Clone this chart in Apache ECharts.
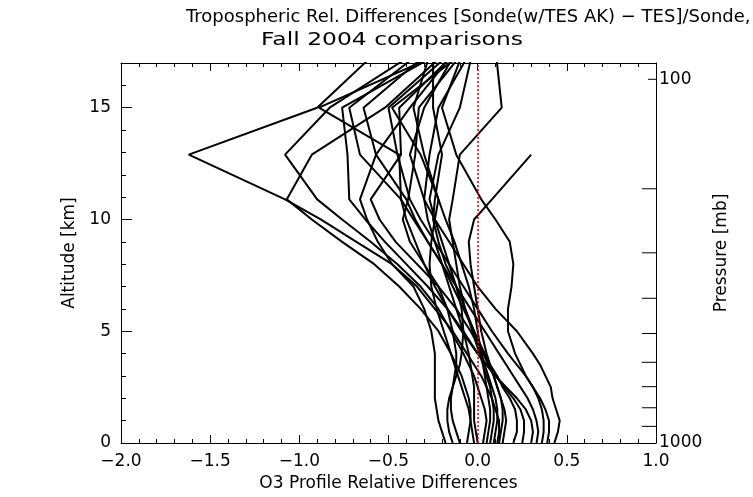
<!DOCTYPE html>
<html><head><meta charset="utf-8">
<script src="https://cdn.jsdelivr.net/npm/echarts@6/dist/echarts.min.js"></script>
<style>html,body{margin:0;padding:0;background:#fff}#c{width:753px;height:497px}</style>
</head><body><div id="c"></div>
<script>
// Altitude levels [km] at which profile values are given
const altitudes = [0, 0.5, 1, 1.5, 2, 2.5, 3, 3.5, 4, 5, 6, 7, 8, 9, 10, 10.9, 12.9, 15.0, 17.1];
// Relative differences for each sonde comparison profile
const p01 = [0.11,0.12,0.12,0.10,0.08,0.05,0.02,-0.02,-0.06,-0.14,-0.24,-0.34,-0.48,-0.68,-0.88,-1.08,-1.62,-0.90,-0.62];
const p02 = [0.03,0.04,0.05,0.04,0.02,0.00,-0.02,-0.05,-0.08,-0.15,-0.22,-0.32,-0.45,-0.60,-0.76,-0.90,-1.08,-0.83,-0.42];
const p03 = [-0.06,-0.05,-0.04,-0.04,-0.05,-0.07,-0.09,-0.12,-0.15,-0.22,-0.32,-0.44,-0.58,-0.76,-0.93,-1.07,-0.93,-0.52,-0.23];
const p04 = [0.30,0.31,0.30,0.27,0.22,0.16,0.10,0.05,0.00,-0.09,-0.17,-0.24,-0.30,-0.35,-0.40,-0.43,-0.44,-0.89,-0.30];
const p05 = [0.25,0.26,0.26,0.24,0.20,0.15,0.10,0.05,0.00,-0.08,-0.17,-0.28,-0.40,-0.52,-0.63,-0.72,-0.73,-0.76,-0.29];
const p06 = [-0.18,-0.20,-0.22,-0.23,-0.24,-0.24,-0.24,-0.24,-0.24,-0.26,-0.30,-0.36,-0.48,-0.56,-0.62,-0.66,-0.57,-0.38,-0.17];
const p07 = [-0.10,-0.12,-0.14,-0.15,-0.15,-0.14,-0.13,-0.12,-0.12,-0.14,-0.17,-0.22,-0.30,-0.38,-0.42,-0.39,-0.35,-0.33,-0.12];
const p08 = [0.00,-0.01,-0.02,-0.02,-0.02,-0.02,-0.03,-0.04,-0.05,-0.08,-0.12,-0.16,-0.20,-0.24,-0.28,-0.30,-0.27,-0.22,-0.07];
const p09 = [0.07,0.08,0.09,0.09,0.08,0.07,0.05,0.03,0.01,-0.03,-0.07,-0.10,-0.12,-0.14,-0.16,-0.14,-0.10,0.135,0.107];
const p10 = [0.14,0.15,0.16,0.15,0.13,0.11,0.09,0.07,0.05,0.02,0.00,-0.02,-0.04,-0.05,-0.02,0.08,0.30,null,null];
const p11 = [0.39,0.40,0.40,0.38,0.35,0.31,0.27,0.24,0.21,0.17,0.17,0.19,0.20,0.18,0.10,0.02,-0.12,-0.20,-0.10];
const p12 = [0.43,0.45,0.46,0.44,0.42,0.41,0.38,0.35,0.31,0.22,0.10,0.00,-0.08,-0.16,-0.24,-0.30,-0.38,-0.30,-0.15];
const p13 = [0.36,0.37,0.37,0.36,0.34,0.31,0.27,0.22,0.17,0.08,0.00,-0.08,-0.16,-0.24,-0.32,-0.38,-0.45,-0.50,-0.20];
const p14 = [0.09,0.10,0.11,0.11,0.10,0.08,0.06,0.04,0.02,-0.02,-0.07,-0.12,-0.18,-0.22,-0.25,-0.24,-0.20,-0.25,-0.25];
const p15 = [-0.02,-0.03,-0.04,-0.05,-0.07,-0.09,-0.11,-0.13,-0.15,-0.19,-0.23,-0.26,-0.27,-0.26,-0.24,-0.22,-0.30,-0.36,-0.28];
const p16 = [0.20,0.22,0.22,0.21,0.18,0.14,0.11,0.07,0.04,-0.02,-0.08,-0.14,-0.20,-0.28,-0.35,-0.40,-0.57,-0.64,-0.33];
const p17 = [0.33,0.34,0.33,0.31,0.28,0.24,0.20,0.16,0.12,0.04,-0.04,-0.12,-0.20,-0.28,-0.36,-0.43,-0.66,-0.72,-0.38];
const p18 = [0.05,0.06,0.07,0.07,0.06,0.05,0.04,0.03,0.02,0.00,-0.02,-0.05,-0.09,-0.13,-0.18,-0.22,-0.32,-0.48,-0.14];
const p19 = [-0.14,-0.16,-0.17,-0.17,-0.16,-0.14,-0.12,-0.10,-0.09,-0.08,-0.09,-0.12,-0.16,-0.20,-0.24,-0.27,-0.22,-0.10,-0.04];
const p20 = [0.12,0.13,0.14,0.14,0.13,0.11,0.09,0.06,0.03,-0.04,-0.12,-0.22,-0.34,-0.46,-0.55,-0.60,-0.43,-0.44,-0.17];
const profiles = [p01,p02,p03,p04,p05,p06,p07,p08,p09,p10,p11,p12,p13,p14,p15,p16,p17,p18,p19,p20];

// Axis ranges / ticks
const xRange = [-2.0, 1.0];
const altRange = [0, 17];
const pressureRange = [90.2, 1000];
const pressureTicks = [100, 200, 300, 400, 500, 600, 700, 800, 900];
const pressureLabels = [100, 1000];
const zeroLine = [0];

const titleLine1 = 'Tropospheric Rel. Differences [Sonde(w/TES AK) \u2212 TES]/Sonde,';
const titleLine2 = 'Fall 2004 comparisons';

const FONT = 'DejaVu Sans';
const fmtMinus = v => (v < 0 ? '\u2212' : '') + Math.abs(v).toFixed(1);

const chart = echarts.init(document.getElementById('c'), null, {renderer: 'canvas'});

const lineSeries = profiles.map((p, k) => ({
  type: 'line',
  name: 'p' + (k + 1),
  xAxisIndex: 0, yAxisIndex: 0,
  data: p.map((x, i) => x === null ? null : [x, altitudes[i]]).filter(d => d !== null),
  showSymbol: false, symbol: 'none',
  color: '#000',
  lineStyle: {color: '#000', width: 2},
  silent: true,
  z: 3
}));

const zeroSeries = {
  type: 'line',
  name: 'zero',
  xAxisIndex: 0, yAxisIndex: 0,
  data: [],
  color: '#ff0000',
  silent: true,
  markLine: {
    silent: true, symbol: ['none', 'none'], label: {show: false},
    lineStyle: {color: '#ff0000', type: [2, 2], width: 1.6, opacity: 1},
    data: zeroLine.map(v => ({xAxis: v, lineStyle: {color: '#ff0000'}}))
  },
  z: 4
};

const tickSeries = {
  type: 'custom',
  xAxisIndex: 0, yAxisIndex: 1,
  data: pressureTicks.map(p => [xRange[1], p]),
  encode: {x: 0, y: 1},
  clip: false,
  silent: true,
  renderItem: (params, api) => {
    const pt = api.coord([api.value(0), api.value(1)]);
    const len = api.value(1) === 100 ? 8 : 14;
    return {type: 'line', shape: {x1: pt[0] - len, y1: pt[1], x2: pt[0], y2: pt[1]},
            style: {stroke: '#000', lineWidth: 1}};
  }
};

const axisLine = {show: true, onZero: false, lineStyle: {color: '#000', width: 1}};

chart.setOption({
  animation: false,
  backgroundColor: '#fff',
  textStyle: {fontFamily: FONT},
  grid: {left: 121, right: 97, top: 63, bottom: 54, containLabel: false},
  graphic: [
    {type: 'text', left: 186, top: 8, style: {text: titleLine1, font: '18px "DejaVu Sans"', fill: '#000'}},
    {type: 'text', x: 392, y: 31, scaleX: 1.3, style: {text: titleLine2, font: '18px "DejaVu Sans"', fill: '#000', textAlign: 'center'}}
  ],
  xAxis: [
    {
      type: 'value', position: 'bottom', min: xRange[0], max: xRange[1], interval: 0.5,
      axisLine: axisLine, splitLine: {show: false},
      axisTick: {show: true, inside: true, length: 8, lineStyle: {color: '#000'}},
      minorTick: {show: true, splitNumber: 5, length: 4, lineStyle: {color: '#000'}},
      axisLabel: {color: '#000', fontSize: 17, fontFamily: FONT, margin: 10, formatter: fmtMinus},
      name: 'O3 Profile Relative Differences', nameLocation: 'middle', nameGap: 32,
      nameTextStyle: {color: '#000', fontSize: 17, fontFamily: FONT}
    },
    {
      type: 'value', position: 'top', min: xRange[0], max: xRange[1], interval: 0.5,
      axisLine: axisLine, splitLine: {show: false},
      axisTick: {show: true, inside: true, length: 8, lineStyle: {color: '#000'}},
      minorTick: {show: true, splitNumber: 5, length: 4, lineStyle: {color: '#000'}},
      axisLabel: {show: false}
    }
  ],
  yAxis: [
    {
      type: 'value', position: 'left', min: altRange[0], max: altRange[1], interval: 5,
      axisLine: axisLine, splitLine: {show: false},
      axisTick: {show: true, inside: true, length: 11, lineStyle: {color: '#000'}},
      minorTick: {show: true, splitNumber: 5, length: 5, lineStyle: {color: '#000'}},
      axisLabel: {color: '#000', fontSize: 17, fontFamily: FONT, margin: 10, showMaxLabel: false,
        formatter: v => (v % 5 === 0 ? String(v) : '')},
      name: 'Altitude [km]', nameLocation: 'middle', nameGap: 35, nameRotate: 90,
      nameTextStyle: {color: '#000', fontSize: 17, fontFamily: FONT}
    },
    {
      type: 'log', logBase: 10, position: 'right', inverse: true,
      min: pressureRange[0], max: pressureRange[1],
      axisLine: axisLine, splitLine: {show: false},
      axisTick: {show: false},
      minorTick: {show: false},
      axisLabel: {color: '#000', fontSize: 17, fontFamily: FONT, margin: 3,
        showMinLabel: false,
        formatter: v => pressureLabels.some(p => Math.abs(p - v) < 1e-6 * p) ? String(Math.round(v)) : ''},
      name: 'Pressure [mb]', nameLocation: 'middle', nameGap: 40, nameRotate: 90,
      nameTextStyle: {color: '#000', fontSize: 17, fontFamily: FONT}
    }
  ],
  series: lineSeries.concat([zeroSeries, tickSeries])
});
</script>
</body></html>
